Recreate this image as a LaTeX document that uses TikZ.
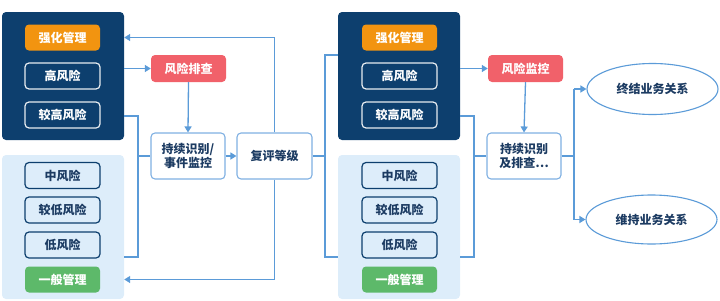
\documentclass[tikz,border=0pt]{standalone}
\usepackage{fontspec}
\setmainfont{Noto Sans CJK SC}
\usetikzlibrary{arrows.meta,shapes.geometric}
\definecolor{navy}{HTML}{0D3F6E}
\definecolor{navytext}{HTML}{1C3B62}
\definecolor{lightbg}{HTML}{DDEDFA}
\definecolor{orangec}{HTML}{F29410}
\definecolor{greenc}{HTML}{5DB96A}
\definecolor{redc}{HTML}{F1616A}
\definecolor{linec}{HTML}{5B9BD8}
\definecolor{flowborder}{HTML}{7FB0E2}
\begin{document}
\begin{tikzpicture}[x=1pt,y=-1pt,
  every node/.style={font=\bfseries\fontsize{12}{14}\selectfont, inner sep=0pt, align=center},
  darkpanel/.style={fill=navy, rounded corners=4pt, minimum width=122pt, minimum height=128pt},
  lightpanel/.style={fill=lightbg, rounded corners=4pt, minimum width=122pt, minimum height=144pt},
  itembase/.style={rounded corners=4pt, minimum width=75pt, minimum height=26pt},
  orangebox/.style={itembase, fill=orangec, text=white},
  greenbox/.style={itembase, fill=greenc, text=white},
  darkitem/.style={itembase, fill=navy, draw=white!90!navy, line width=1.2pt, text=white},
  lightitem/.style={itembase, fill=lightbg, draw=navy, line width=1.2pt, text=navytext},
  redbox/.style={itembase, fill=redc, text=white, minimum height=27pt},
  flowbox/.style={rounded corners=4pt, fill=white, draw=flowborder, line width=1.1pt, text=navytext, minimum width=74pt, minimum height=46pt},
  endbox/.style={ellipse, fill=white, draw=linec, line width=1.1pt, text=navytext, minimum width=131pt, minimum height=51pt},
  conn/.style={draw=linec, line width=1.3pt},
  arr/.style={conn, -{Triangle[length=6pt,width=7pt]}}
]
\useasboundingbox (0,0) rectangle (720,300);

% ---------- left group ----------
\node[darkpanel] (ldark) at (63,76) {};
\node[lightpanel] (llight) at (63,227) {};
\node[orangebox] (lstrong) at (62.5,37.5) {强化管理};
\node[darkitem] (lhigh) at (62.5,76) {高风险};
\node[darkitem] (lhigher) at (62.5,115) {较高风险};
\node[lightitem] (lmid) at (62.5,175.5) {中风险};
\node[lightitem] (llower) at (62.5,210) {较低风险};
\node[lightitem] (llow) at (62.5,245) {低风险};
\node[greenbox] (lgeneral) at (62.5,279.5) {一般管理};

\node[redbox] (lcheck) at (188.5,68.5) {风险排查};
\node[flowbox] (lflow) at (188,156) {持续识别/\\事件监控};
\node[flowbox, minimum width=75pt] (review) at (274.5,156) {复评等级};

% ---------- right group ----------
\node[darkpanel] (rdark) at (399,76) {};
\node[lightpanel] (rlight) at (399,227) {};
\node[orangebox] (rstrong) at (399.5,37.5) {强化管理};
\node[darkitem] (rhigh) at (399.5,76) {高风险};
\node[darkitem] (rhigher) at (399.5,115) {较高风险};
\node[lightitem] (rmid) at (399.5,175.5) {中风险};
\node[lightitem] (rlower) at (399.5,210) {较低风险};
\node[lightitem] (rlow) at (399.5,245) {低风险};
\node[greenbox] (rgeneral) at (399.5,279.5) {一般管理};

\node[redbox] (rmon) at (525.5,68.5) {风险监控};
\node[flowbox] (rflow) at (524,156) {持续识别\\及排查…};
\node[endbox] (endrel) at (652.5,89) {终结业务关系};
\node[endbox, minimum height=49pt] (keeprel) at (651.5,219.5) {维持业务关系};

% ---------- helper coordinates ----------
\coordinate (lb1) at (138,116);
\coordinate (lb2) at (138,257);
\coordinate (mb1) at (325,55);
\coordinate (mb2) at (325,257);
\coordinate (rb1) at (474,116);
\coordinate (rb2) at (474,257);
\coordinate (ob1) at (574,89);
\coordinate (ob2) at (574,219.5);

% ---------- left connectors ----------
\draw[arr] (lcheck.west -| ldark.east) -- (lcheck.west);
\draw[arr] (lcheck.south) -- (lflow.north);
\draw[conn] (ldark.east |- lb1) -- (lb1) -- (lb2) -- (llight.east |- lb2);
\draw[conn] (lflow.west -| lb1) -- (lflow.west);
\draw[arr] (lflow.east) -- (review.west);
\draw[arr] (review.north) |- (ldark.east |- lstrong);
\draw[arr] (review.south) |- (llight.east |- lgeneral);

% ---------- middle bracket ----------
\draw[conn] (review.east) -- (review.east -| mb1);
\draw[conn] (rdark.west |- mb1) -- (mb1) -- (mb2) -- (rlight.west |- mb2);

% ---------- right connectors ----------
\draw[arr] (rmon.west -| rdark.east) -- (rmon.west);
\draw[arr] (rmon.south) -- (rflow.north);
\draw[conn] (rdark.east |- rb1) -- (rb1) -- (rb2) -- (rlight.east |- rb2);
\draw[conn] (rflow.west -| rb1) -- (rflow.west);
\draw[conn] (rflow.east) -- (rflow.east -| ob1);
\draw[conn] (ob1) -- (ob2);
\draw[arr] (ob1) -- (endrel.west);
\draw[arr] (ob2) -- (keeprel.west);
\end{tikzpicture}
\end{document}
